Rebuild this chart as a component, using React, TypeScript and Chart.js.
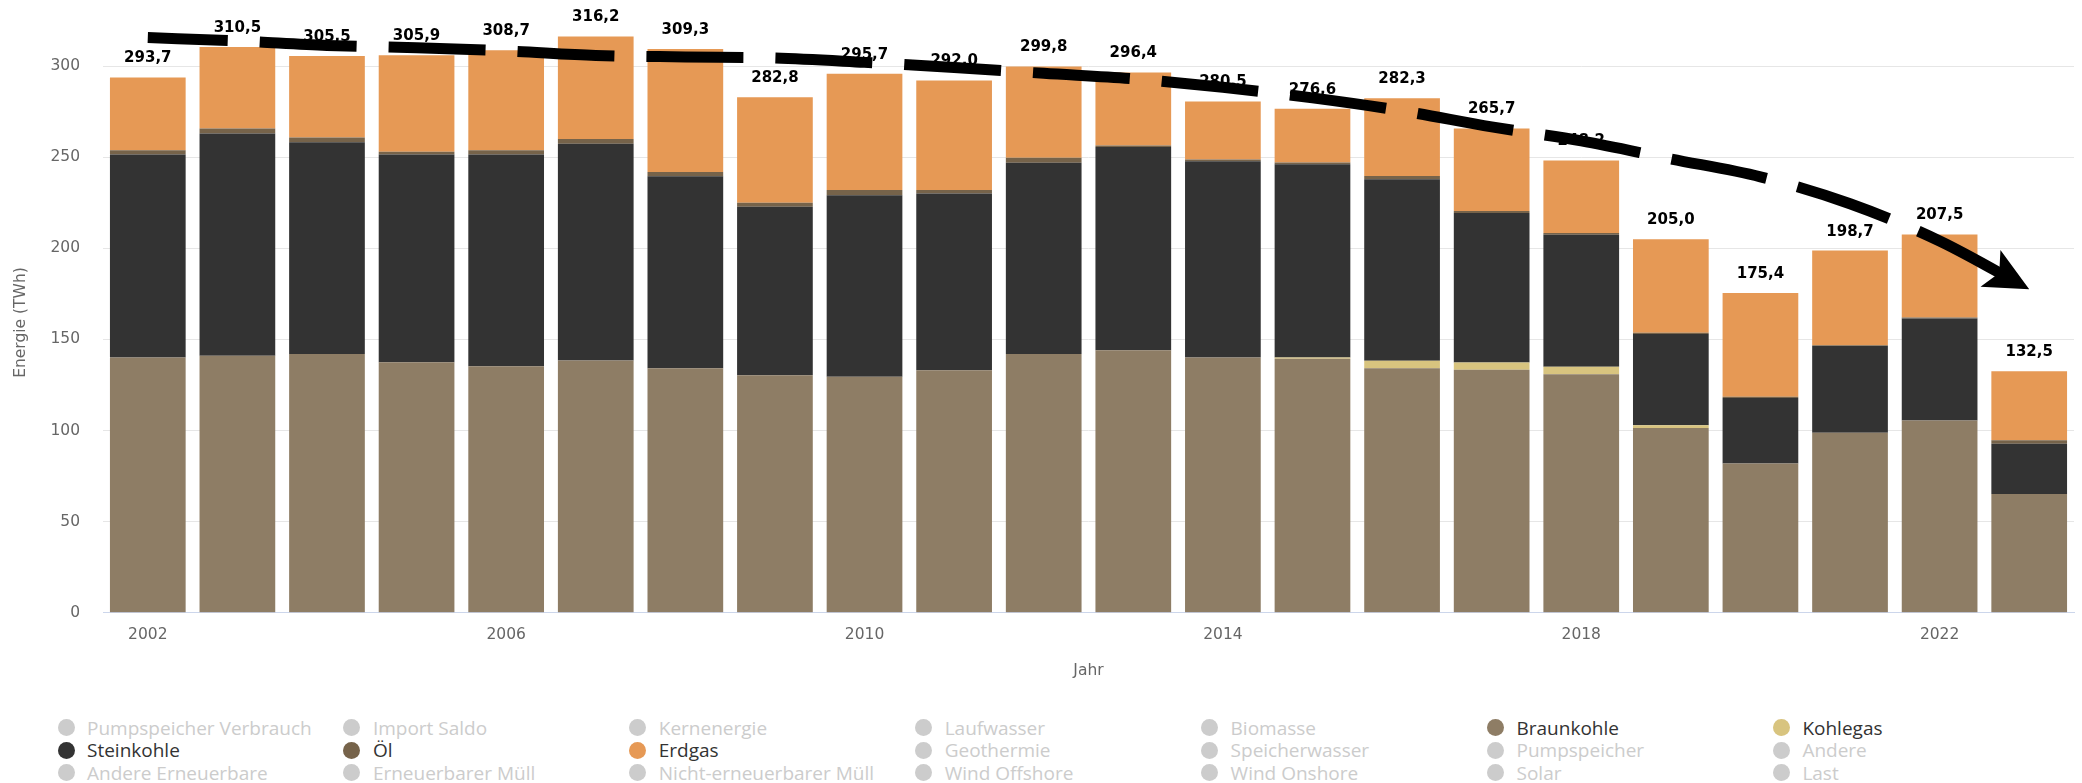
import React, { useEffect, useRef } from 'react';
import { Chart, registerables } from 'chart.js';

Chart.register(...registerables);

const years = ['2002', '2003', '2004', '2005', '2006', '2007', '2008', '2009', '2010', '2011', '2012', '2013', '2014', '2015', '2016', '2017', '2018', '2019', '2020', '2021', '2022', '2023'];
const xTickLabels = ['2002', '2006', '2010', '2014', '2018', '2022'];

const braunkohle = [140.0, 141.0, 141.9, 137.5, 135.2, 138.4, 134.2, 130.3, 129.5, 133.0, 141.9, 144.0, 140.0, 139.3, 134.2, 133.3, 130.8, 101.3, 81.9, 98.7, 105.5, 65.1];
const kohlegas = [0, 0, 0, 0, 0, 0, 0, 0, 0, 0, 0, 0, 0, 0.8, 4.0, 4.0, 4.2, 1.5, 0, 0, 0, 0];
const steinkohle = [111.4, 122.0, 116.3, 113.9, 116.2, 118.9, 105.3, 92.5, 99.6, 97.1, 105.0, 111.5, 107.8, 106.0, 99.7, 82.1, 72.4, 50.1, 35.9, 47.6, 56.0, 27.6];
const oel = [2.4, 2.7, 2.6, 1.5, 2.4, 2.6, 2.4, 2.2, 2.8, 1.8, 2.7, 0.9, 0.9, 1.0, 1.7, 1.0, 1.0, 0.7, 0.7, 0.5, 0.5, 1.9];
const erdgas = [39.9, 44.8, 44.7, 53.0, 54.9, 56.3, 67.4, 57.8, 63.8, 60.1, 50.2, 40.0, 31.8, 29.5, 42.7, 45.3, 39.8, 51.4, 56.9, 51.9, 45.5, 37.9];
const totals = [293.7, 310.5, 305.5, 305.9, 308.7, 316.2, 309.3, 282.8, 295.7, 292.0, 299.8, 296.4, 280.5, 276.6, 282.3, 265.7, 248.2, 205.0, 175.4, 198.7, 207.5, 132.5];
const trend = [315.6, 313.8, 311.3, 310.0, 308.3, 305.8, 305.0, 304.4, 302.0, 299.2, 296.0, 293.0, 288.3, 282.5, 275.4, 266.6, 258.9, 249.0, 239.2, 224.4, 204.0, 177.5];

const legendNames = [
  'Pumpspeicher Verbrauch', 'Import Saldo', 'Kernenergie', 'Laufwasser', 'Biomasse', 'Braunkohle', 'Kohlegas',
  'Steinkohle', 'Öl', 'Erdgas', 'Geothermie', 'Speicherwasser', 'Pumpspeicher', 'Andere',
  'Andere Erneuerbare', 'Erneuerbarer Müll', 'Nicht-erneuerbarer Müll', 'Wind Offshore', 'Wind Onshore', 'Solar', 'Last',
];
const activeColors: Record<string, string> = {
  Braunkohle: '#8e7d65',
  Kohlegas: '#d8c47f',
  Steinkohle: '#333333',
  'Öl': '#76634a',
  Erdgas: '#e69955',
};

const TICK_FONT = { family: '"DejaVu Sans", sans-serif', size: 15.5 };

const totalLabelsPlugin = {
  id: 'totalLabels',
  beforeDatasetsDraw(chart: any) {
    const { ctx } = chart;
    const xs = chart.scales.x;
    const ys = chart.scales.y;
    ctx.save();
    ctx.font = 'bold 15px "DejaVu Sans", sans-serif';
    ctx.fillStyle = '#000000';
    ctx.textAlign = 'center';
    ctx.textBaseline = 'middle';
    totals.forEach((t, i) => {
      ctx.fillText(t.toFixed(1).replace('.', ','), xs.getPixelForValue(i), ys.getPixelForValue(t) - 19);
    });
    ctx.restore();
  },
};

const arrowPlugin = {
  id: 'trendArrow',
  afterDatasetsDraw(chart: any) {
    const idx = chart.data.datasets.findIndex((d: any) => d.type === 'line');
    if (idx < 0) return;
    const meta = chart.getDatasetMeta(idx);
    const pts = meta.data;
    if (!pts || pts.length < 2) return;
    const last = pts[pts.length - 1];
    const prev = pts[pts.length - 2];
    let dx = last.x - (last.cp1x ?? prev.x);
    let dy = last.y - (last.cp1y ?? prev.y);
    if (!isFinite(dx) || !isFinite(dy) || (dx === 0 && dy === 0)) {
      dx = last.x - prev.x;
      dy = last.y - prev.y;
    }
    const len = Math.hypot(dx, dy) || 1;
    const ux = dx / len;
    const uy = dy / len;
    const L = 44;
    const W = 21;
    const bx = last.x - ux * L;
    const by = last.y - uy * L;
    const { ctx } = chart;
    ctx.save();
    ctx.fillStyle = '#000000';
    ctx.beginPath();
    ctx.moveTo(last.x, last.y);
    ctx.lineTo(bx - uy * W, by + ux * W);
    ctx.lineTo(bx + ux * 10, by + uy * 10);
    ctx.lineTo(bx + uy * W, by - ux * W);
    ctx.closePath();
    ctx.fill();
    ctx.restore();
  },
};

export default function App() {
  const canvasRef = useRef<HTMLCanvasElement | null>(null);

  useEffect(() => {
    if (!canvasRef.current) return;
    const bar = (label: string, data: number[]) => ({
      type: 'bar' as const,
      label,
      data,
      backgroundColor: activeColors[label],
      borderWidth: 0,
      barPercentage: 0.845,
      categoryPercentage: 1,
      stack: 'energy',
      order: 2,
    });
    const chart = new Chart(canvasRef.current, {
      type: 'bar',
      data: {
        labels: years,
        datasets: [
          bar('Braunkohle', braunkohle),
          bar('Kohlegas', kohlegas),
          bar('Steinkohle', steinkohle),
          bar('Öl', oel),
          bar('Erdgas', erdgas),
          {
            type: 'line' as const,
            label: 'Trend',
            data: trend,
            borderColor: '#000000',
            borderWidth: 11,
            borderDash: [97, 32],
            borderDashOffset: 17,
            borderCapStyle: 'butt',
            cubicInterpolationMode: 'monotone',
            pointRadius: 0,
            fill: false,
            stack: 'trend',
            order: 0,
            clip: false,
          } as any,
        ],
      },
      options: {
        animation: false,
        responsive: false,
        devicePixelRatio: 1,
        layout: { autoPadding: false, padding: { top: 11, right: 8, left: 0, bottom: 0 } },
        plugins: { legend: { display: false }, tooltip: { enabled: false } },
        scales: {
          x: {
            stacked: true,
            grid: { display: false, drawTicks: false },
            border: { display: true, color: '#ccd6eb', width: 1 },
            ticks: {
              font: TICK_FONT,
              color: '#666666',
              padding: 12.7,
              autoSkip: false,
              maxRotation: 0,
              minRotation: 0,
              callback: (_v: any, i: number) => (xTickLabels.includes(years[i]) ? years[i] : ''),
            },
            title: {
              display: true,
              text: 'Jahr',
              color: '#666666',
              font: TICK_FONT,
              padding: { top: 0, bottom: 20 },
            },
            afterFit: (s: any) => {
              s.height = 87.3;
            },
          },
          y: {
            stacked: true,
            min: 0,
            max: 318.5,
            ticks: { stepSize: 50, padding: 23, font: TICK_FONT, color: '#666666' },
            grid: { color: '#e6e6e6', drawTicks: false, lineWidth: 1 },
            border: { display: false },
            title: {
              display: true,
              text: 'Energie (TWh)',
              color: '#666666',
              font: TICK_FONT,
              padding: { top: 12, bottom: 0 },
            },
            afterBuildTicks: (s: any) => {
              s.ticks = s.ticks.filter((t: any) => t.value <= 300);
            },
            afterFit: (s: any) => {
              s.width = 103;
            },
          },
        },
      } as any,
      plugins: [totalLabelsPlugin, arrowPlugin],
    });
    return () => chart.destroy();
  }, []);

  return (
    <div style={{ position: 'fixed', left: 0, top: 0, width: 2082, height: 783, background: '#ffffff', overflow: 'hidden' }}>
      <canvas ref={canvasRef} width={2082} height={700} style={{ position: 'absolute', left: 0, top: 0, width: 2082, height: 700 }} />
      {legendNames.map((name, i) => {
        const col = i % 7;
        const row = Math.floor(i / 7);
        const color = activeColors[name];
        const cx = 66 + col * 285.9;
        const cy = 727.5 + row * 22.6;
        return (
          <div
            key={name}
            style={{
              position: 'absolute',
              left: cx - 8.5,
              top: cy - 13,
              height: 26,
              display: 'flex',
              alignItems: 'center',
              whiteSpace: 'nowrap',
              fontFamily: '"Open Sans", sans-serif',
              fontSize: 19,
              color: color ? '#333333' : '#cccccc',
            }}
          >
            <span style={{ display: 'inline-block', width: 17, height: 17, borderRadius: '50%', background: color || '#cccccc', marginRight: 12.5 }} />
            <span>{name}</span>
          </div>
        );
      })}
    </div>
  );
}
